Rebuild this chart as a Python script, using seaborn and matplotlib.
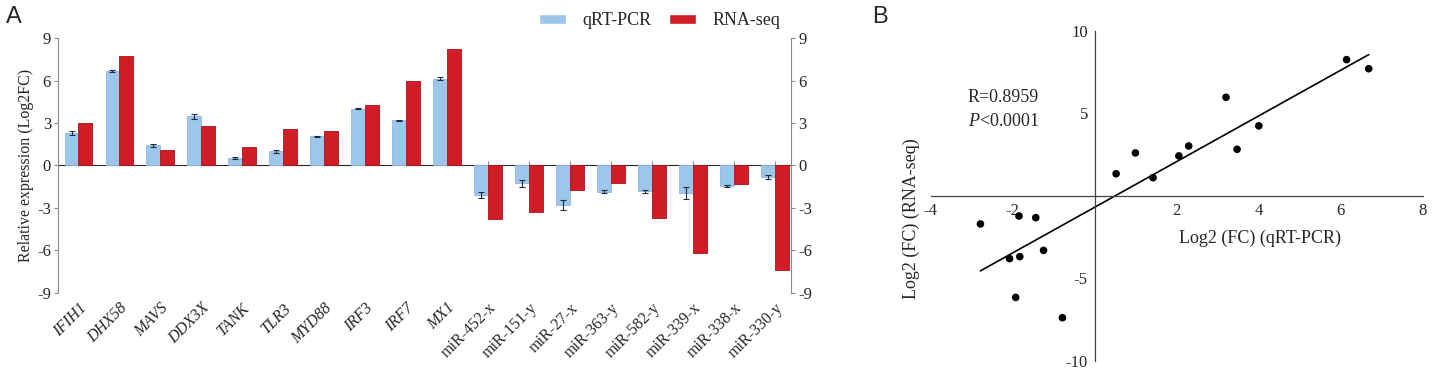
import numpy as np
import pandas as pd
import matplotlib
matplotlib.use("Agg")
import matplotlib.pyplot as plt
import seaborn as sns

# values (log2 fold change)
genes = ['IFIH1', 'DHX58', 'MAVS', 'DDX3X', 'TANK', 'TLR3', 'MYD88', 'IRF3', 'IRF7', 'MX1',
         'miR-452-x', 'miR-151-y', 'miR-27-x', 'miR-363-y', 'miR-582-y', 'miR-339-x',
         'miR-338-x', 'miR-330-y']
qpcr = [2.29, 6.68, 1.42, 3.47, 0.52, 0.99, 2.05, 4.0, 3.2, 6.14,
        -2.08, -1.25, -2.79, -1.85, -1.83, -1.93, -1.44, -0.79]
rnaseq = [3.02, 7.7, 1.1, 2.82, 1.34, 2.6, 2.42, 4.24, 5.97, 8.25,
          -3.8, -3.3, -1.7, -1.22, -3.68, -6.15, -1.32, -7.38]
qpcr_err = [0.12, 0.07, 0.08, 0.2, 0.07, 0.08, 0.04, 0.04, 0.04, 0.08,
            0.2, 0.25, 0.35, 0.12, 0.08, 0.43, 0.07, 0.15]
methods = ['qRT-PCR', 'RNA-seq']
n_genes = 10  # first 10 are genes (italic), rest are miRNAs

blue = '#9ec5ea'
red = '#d01c24'
grey = '#8c8c8c'

sns.set_style('white')
plt.rcParams['font.family'] = ['Liberation Serif', 'DejaVu Sans']
plt.rcParams['axes.unicode_minus'] = False
plt.rcParams['mathtext.fontset'] = 'custom'
plt.rcParams['mathtext.it'] = 'Liberation Serif:italic'
plt.rcParams['mathtext.rm'] = 'Liberation Serif'

df = pd.DataFrame({
    'gene': genes * 2,
    'value': qpcr + rnaseq,
    'method': [methods[0]] * len(genes) + [methods[1]] * len(genes),
})

fig = plt.figure(figsize=(14.32, 3.69), dpi=100)

# ---- panel A: bar chart
ax = fig.add_axes([0.0405, 0.206, 0.512, 0.691])
sns.barplot(data=df, x='gene', y='value', hue='method', palette=[blue, red],
            saturation=1, width=0.68, gap=0, ax=ax, legend=True, errorbar=None)
for p in ax.containers[0]:
    p.set_edgecolor('#8fb8e0')
    p.set_linewidth(0.6)
for p in ax.containers[1]:
    p.set_edgecolor('#b0121a')
    p.set_linewidth(0.6)
xs = [p.get_x() + p.get_width() / 2 for p in ax.containers[0]]
ax.errorbar(xs, qpcr, yerr=qpcr_err, fmt='none', ecolor='#1e2a40',
            elinewidth=0.8, capsize=2.2, capthick=0.8)

ax.set_xlim(-0.5, len(genes) - 0.6)
ax.set_ylim(-9, 9)
ax.set_yticks([-9, -6, -3, 0, 3, 6, 9])
ax.set_xlabel('')
ax.set_ylabel('Relative expression (Log2FC)', fontsize=11.5, labelpad=2)
for s in ['top', 'bottom', 'right']:
    ax.spines[s].set_visible(False)
ax.spines['left'].set_color(grey)
ax.tick_params(axis='y', direction='out', length=3, color=grey, labelsize=12, pad=2)
ax.tick_params(axis='x', length=0, labelsize=11.5, pad=5)
ax.set_xticks(range(len(genes)))
ax.set_xticklabels(genes, rotation=45, ha='right', rotation_mode='anchor')
for i, lab in enumerate(ax.get_xticklabels()):
    if i < n_genes:
        lab.set_fontstyle('italic')

# zero line with small ticks at category centres
zero = ax.secondary_xaxis(0.5)
zero.set_xticks(range(len(genes)), labels=[])
zero.spines['bottom'].set_color('#6d7a8c')
zero.tick_params(length=3, color=grey)

ax2 = ax.twinx()
ax2.set_ylim(-9, 9)
ax2.set_yticks([-9, -6, -3, 0, 3, 6, 9])
for s in ['top', 'bottom', 'left']:
    ax2.spines[s].set_visible(False)
ax2.spines['right'].set_color(grey)
ax2.tick_params(axis='y', direction='out', length=3, color=grey, labelsize=12, pad=2)

ax.legend(ncol=2, frameon=False, loc='upper right', bbox_to_anchor=(0.995, 1.13),
          fontsize=13, handlelength=1.5, handleheight=0.5, columnspacing=1.0,
          handletextpad=0.9, borderaxespad=0)

# ---- panel B: correlation scatter
axB = fig.add_axes([0.650, 0.0217, 0.3436, 0.895])
sns.regplot(x=np.array(qpcr), y=np.array(rnaseq), ax=axB, ci=None, scatter=False,
            truncate=True, color='black', line_kws={'linewidth': 1.2})
sns.scatterplot(x=qpcr, y=rnaseq, ax=axB, color='black', s=30, edgecolor='none')
axB.set_xlim(-4, 8)
axB.set_ylim(-10, 10)
axB.set_xticks([-4, -2, 2, 4, 6, 8])
axB.set_yticks([-10, -5, 5, 10])
for s in ['top', 'right']:
    axB.spines[s].set_visible(False)
for s in ['left', 'bottom']:
    axB.spines[s].set_position(('data', 0))
    axB.spines[s].set_color('#444444')
    axB.spines[s].set_linewidth(0.9)
axB.tick_params(direction='out', length=3, color='#444444', labelsize=12, pad=2)
axB.set_xlabel('Log2 (FC) (qRT-PCR)', fontsize=13)
axB.set_ylabel('Log2 (FC) (RNA-seq)', fontsize=13)
axB.xaxis.set_label_coords(0.669, 0.397)
axB.yaxis.set_label_coords(-0.022, 0.43)
axB.text(-3.1, 5.97, 'R=0.8959', fontsize=13, va='center', ha='left')
axB.text(-3.1, 4.5, r'$\mathit{P}$<0.0001', fontsize=13, va='center', ha='left')

fig.text(0.004, 0.985, 'A', family='Liberation Sans', fontsize=17, va='top', ha='left')
fig.text(0.609, 0.985, 'B', family='Liberation Sans', fontsize=17, va='top', ha='left')

fig.savefig('out.png', dpi=100)
